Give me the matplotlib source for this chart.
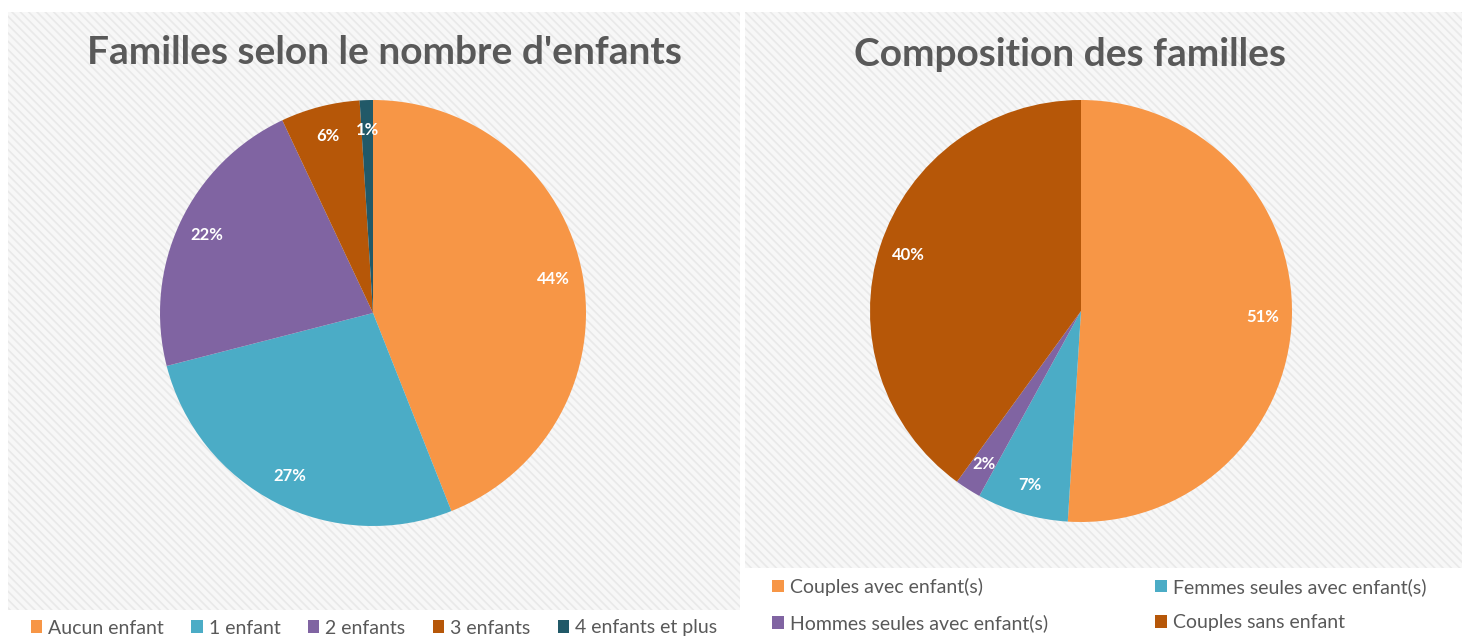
import matplotlib.pyplot as plt
from matplotlib.patches import Rectangle

plt.rcParams['font.family'] = ['Lato', 'DejaVu Sans']

# data
kids_labels = ["Aucun enfant", "1 enfant", "2 enfants", "3 enfants", "4 enfants et plus"]
kids_values = [44, 27, 22, 6, 1]
kids_colors = ["#F79646", "#4BACC6", "#8064A2", "#B65708", "#215968"]

compo_labels = ["Couples avec enfant(s)", "Femmes seules avec enfant(s)",
                "Hommes seules avec enfant(s)", "Couples sans enfant"]
compo_values = [51, 7, 2, 40]
compo_colors = ["#F79646", "#4BACC6", "#8064A2", "#B65708"]

W, H = 1466, 639
fig = plt.figure(figsize=(W / 100, H / 100), dpi=100)
fig.patch.set_facecolor("white")

def px_rect(x0, y0, x1, y1, **kw):
    # rectangle given in pixel coords (y from top)
    r = Rectangle((x0 / W, 1 - y1 / H), (x1 - x0) / W, (y1 - y0) / H,
                  transform=fig.transFigure, **kw)
    fig.add_artist(r)

plt.rcParams['hatch.linewidth'] = 1.2
# hatched panel backgrounds
px_rect(8, 12, 740, 610, facecolor="#F7F7F7", edgecolor="#E9E9E9", lw=0, hatch="\\\\\\\\", zorder=0)
px_rect(745, 12, 1462, 568, facecolor="#F7F7F7", edgecolor="#E9E9E9", lw=0, hatch="\\\\\\\\", zorder=0)
px_rect(745, 568, 1462, 639, facecolor="white", edgecolor="none", zorder=0)

def pie_axes(cx, cy, r):
    return fig.add_axes([(cx - r) / W, (H - cy - r) / H, 2 * r / W, 2 * r / H])

def draw_pie(ax, values, colors):
    wedges, _, autot = ax.pie(values, colors=colors, startangle=90, counterclock=False,
                              autopct=lambda p: f"{p:.0f}%", pctdistance=0.86,
                              wedgeprops=dict(linewidth=0),
                              textprops=dict(color="white", fontsize=12, fontweight="bold"))
    ax.set_xlim(-1, 1)
    ax.set_ylim(-1, 1)
    return wedges

ax1 = pie_axes(373, 313, 213)
w1 = draw_pie(ax1, kids_values, kids_colors)
ax2 = pie_axes(1081, 311, 211)
w2 = draw_pie(ax2, compo_values, compo_colors)

title_kw = dict(fontsize=28, fontweight="bold", color="#595959", ha="center", va="center")
fig.text(384 / W, 1 - 53 / H, "Familles selon le nombre d'enfants", **title_kw)
fig.text(1070 / W, 1 - 55 / H, "Composition des familles", **title_kw)

leg_kw = dict(frameon=False, handlelength=0.6, handleheight=0.6, handletextpad=0.3,
              prop=dict(size=14), labelcolor="#595959")
fig.legend(w1, kids_labels, ncol=5, loc="center", bbox_to_anchor=(374 / W, 1 - 628 / H),
           columnspacing=1.4, **leg_kw)
# row-wise order for the 2-column legend
order = [0, 2, 1, 3]
fig.legend([w2[i] for i in order], [compo_labels[i] for i in order], ncol=2, loc="center left",
           bbox_to_anchor=(755 / W, 1 - 605 / H), columnspacing=5.5, labelspacing=0.95, **leg_kw)

fig.savefig("out.png", dpi=100)
